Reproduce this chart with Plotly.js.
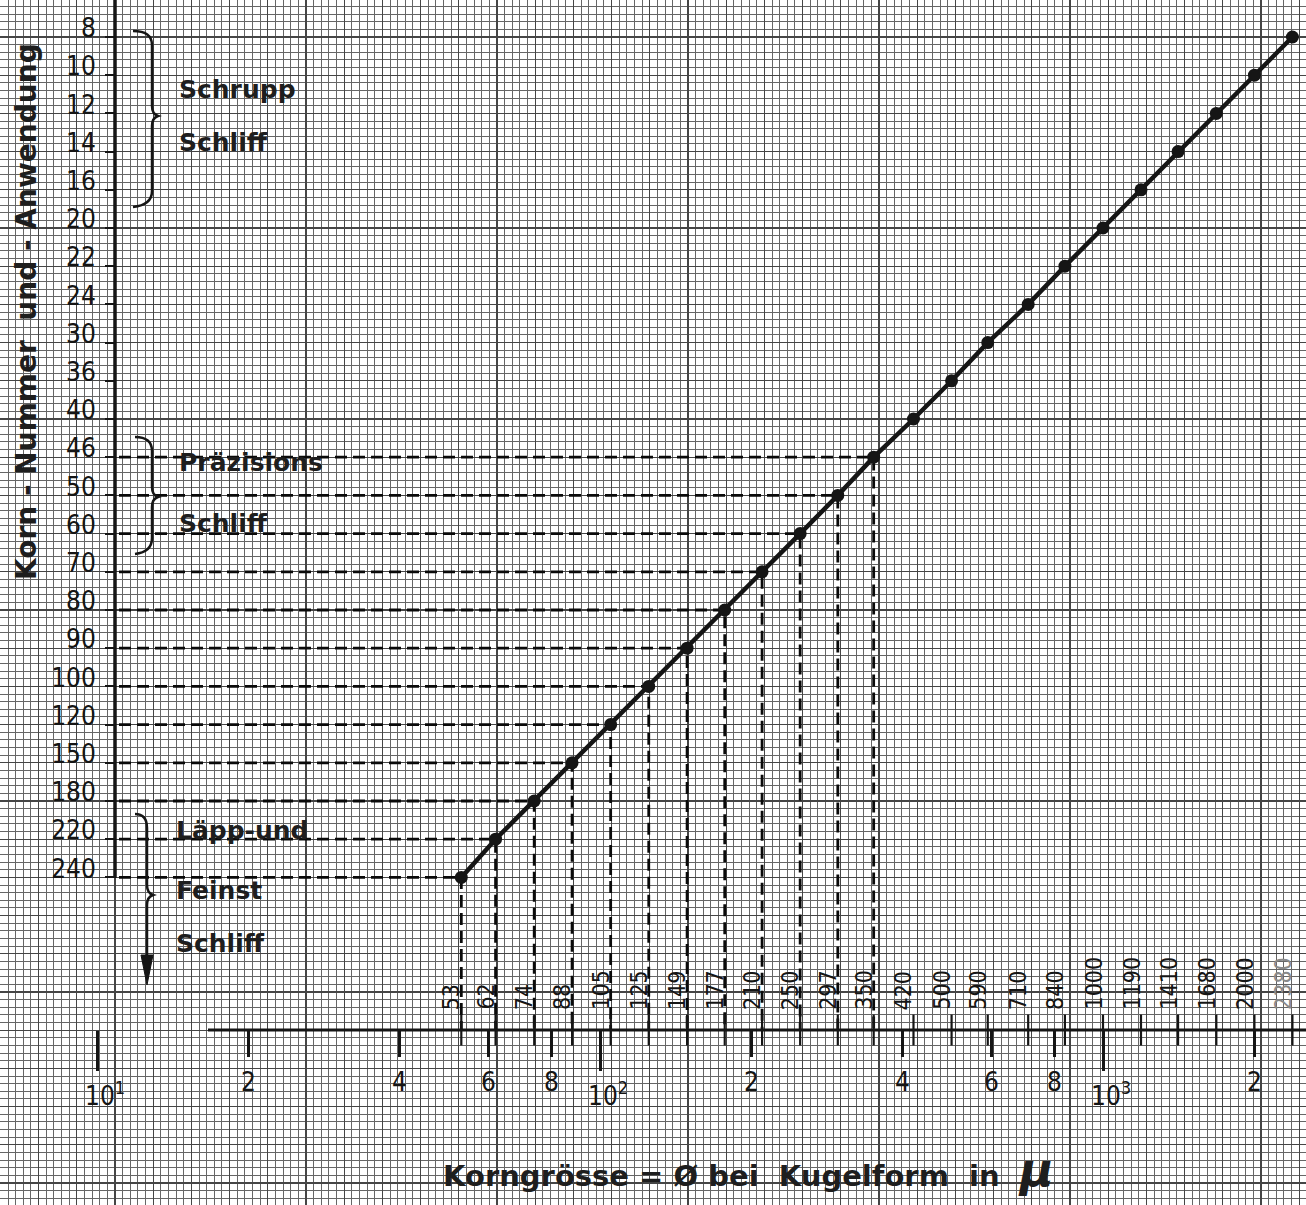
<!DOCTYPE html>
<html>
<head>
<meta charset="utf-8">
<script src="https://cdn.plot.ly/plotly-3.0.1.min.js"></script>
<style>
html,body{margin:0;padding:0;background:#fff;}
#chart{width:1306px;height:1205px;}
</style>
</head>
<body>
<div id="chart"></div>
<script>
// ---- data ----
const grits = [8,10,12,14,16,20,22,24,30,36,40,46,50,60,70,80,90,100,120,150,180,220,240];
const sizes = [2380,2000,1680,1410,1190,1000,840,710,590,500,420,350,297,250,210,177,149,125,105,88,74,62,53];
const guideStart = 11;               // first grit (46) with dashed reference lines
const majorTicks = [20,40,60,80,200,400,600,800,2000];
const majorLabels = ['2','4','6','8','2','4','6','8','2'];
const decadeTicks = [10,100,1000];
const decadeLabels = ['10<sup>1</sup>','10<sup>2</sup>','10<sup>3</sup>'];
const groups = [
  {lines:['Schrupp','Schliff']},
  {lines:['Präzisions','Schliff']},
  {lines:['Läpp-und','Feinst','Schliff']}
];
const xTitle = 'Korngrösse = Ø bei  Kugelform  in  ';
const yTitle = 'Korn - Nummer  und - Anwendung';

// ---- layout geometry (pixels of the 1306x1205 sheet) ----
const W = 1306, H = 1205;
const PX_DEC = 503, PX_100 = 600;          // px per decade, px of 10^2
const ROW = 38.2, ROW0 = 37;               // px per grit row, px of first row
const Y_AXIS_PX = 115, X_AXIS_PX = 1030;
const xr = [2 - PX_100/PX_DEC, 2 + (W-PX_100)/PX_DEC];
const yr = [(H-ROW0)/ROW, -ROW0/ROW];
const px2x = p => Math.pow(10, xr[0] + (xr[1]-xr[0])*p/W);
const py2i = p => (p-ROW0)/ROW;
const pxp = p => p/W, pyp = p => 1 - p/H;

const FONT = 'DejaVu Sans Condensed, DejaVu Sans, sans-serif';
const INK = '#151515';

const idx = grits.map((g,i)=>i);
const axisX = px2x(Y_AXIS_PX + 4), axisI = py2i(X_AXIS_PX);

// dashed guides
const gx = [], gy = [];
for (let i = guideStart; i < sizes.length; i++) {
  gx.push(axisX, sizes[i], sizes[i], null);
  gy.push(i, i, axisI, null);
}

const traces = [
  // anchor trace so the graph-paper subplot is drawn
  {x:[null], y:[null], xaxis:'x', yaxis:'y', mode:'markers', hoverinfo:'skip'},
  {x: gx, y: gy, xaxis:'x2', yaxis:'y2', mode:'lines', hoverinfo:'skip',
   line:{color:'#0a0a0a', width:2.8, dash:'12px,6px'}},
  {x: sizes, y: idx, xaxis:'x2', yaxis:'y2', mode:'lines+markers',
   line:{color:INK, width:4.5}, marker:{color:INK, size:13}},
  {x: sizes, y: sizes.map(()=>axisI), xaxis:'x2', yaxis:'y2', mode:'markers', hoverinfo:'skip',
   marker:{symbol:'line-ns-open', size:22, color:INK, line:{color:INK, width:2.2}}}
];

const ann = [];
sizes.forEach((s,i)=>{
  ann.push({xref:'x2', yref:'paper', x: Math.log10(s), y: pyp(1012), text: String(s),
    textangle:-90, xanchor:'center', yanchor:'bottom', xshift:-10, showarrow:false,
    font:{family:FONT, size:23, color: i===0 ? '#8a8a8a' : INK}});
});
majorTicks.forEach((v,i)=>{
  ann.push({xref:'x2', yref:'paper', x: Math.log10(v), y: pyp(1082), text: majorLabels[i],
    xanchor:'center', yanchor:'middle', showarrow:false, font:{family:FONT, size:26, color:INK}});
});
decadeTicks.forEach((v,i)=>{
  ann.push({xref:'x2', yref:'paper', x: Math.log10(v), y: pyp(1094), text: decadeLabels[i],
    xanchor:'left', yanchor:'middle', xshift:-14, showarrow:false, font:{family:FONT, size:26, color:INK}});
});
const groupY = [[90,142],[463,523],[830,890,943]];
const groupX = [177,177,174];
groups.forEach((g,k)=>{
  g.lines.forEach((t,j)=>{
    ann.push({xref:'paper', yref:'paper', x: pxp(groupX[k]), y: pyp(groupY[k][j]), text:t,
      xanchor:'left', yanchor:'middle', showarrow:false,
      font:{family:'DejaVu Sans, sans-serif', size:25, weight:'bold', color:'#1e1e1e'}});
  });
});
ann.push({xref:'paper', yref:'paper', x: pxp(748), y: pyp(1170),
  text: xTitle + '<span style="font-size:46px;font-style:italic">μ</span>',
  xanchor:'center', yanchor:'middle', showarrow:false,
  font:{family:'DejaVu Sans, sans-serif', size:29, weight:'bold', color:'#1e1e1e'}});
ann.push({xref:'paper', yref:'paper', x: pxp(27), y: pyp(312), text: yTitle, textangle:-90,
  xanchor:'center', yanchor:'middle', showarrow:false,
  font:{family:'DejaVu Sans, sans-serif', size:28, weight:'bold', color:'#1e1e1e'}});

// brace paths in paper coords
function brace(top, mid, bot, x0, xv, xn){
  return 'M ' + pxp(x0).toFixed(5)+','+pyp(top).toFixed(5) +
    ' Q ' + pxp(xv)+','+pyp(top)+' '+pxp(xv)+','+pyp(top+14) +
    ' L ' + pxp(xv)+','+pyp(mid-10) +
    ' Q ' + pxp(xv)+','+pyp(mid-2)+' '+pxp(xn)+','+pyp(mid) +
    ' Q ' + pxp(xv)+','+pyp(mid+2)+' '+pxp(xv)+','+pyp(mid+10) +
    ' L ' + pxp(xv)+','+pyp(bot-14) +
    ' Q ' + pxp(xv)+','+pyp(bot)+' '+pxp(x0)+','+pyp(bot+2);
}
const b3 = 'M ' + pxp(135)+','+pyp(814) +
  ' Q ' + pxp(147)+','+pyp(814)+' '+pxp(147)+','+pyp(828) +
  ' L ' + pxp(147)+','+pyp(885) +
  ' Q ' + pxp(147)+','+pyp(893)+' '+pxp(153)+','+pyp(895) +
  ' Q ' + pxp(147)+','+pyp(897)+' '+pxp(147)+','+pyp(905) +
  ' L ' + pxp(147)+','+pyp(960);
const arrow = 'M ' + pxp(141)+','+pyp(955)+' L '+pxp(153)+','+pyp(955)+' L '+pxp(147)+','+pyp(985)+' Z';

const shapes = [
  {type:'line', xref:'paper', yref:'paper', x0:pxp(Y_AXIS_PX), x1:pxp(Y_AXIS_PX), y0:1, y1:pyp(878), line:{color:INK, width:3.5}},
  {type:'line', xref:'paper', yref:'paper', x0:pxp(208), x1:1, y0:pyp(X_AXIS_PX), y1:pyp(X_AXIS_PX), line:{color:INK, width:3.2}},
  {type:'path', xref:'paper', yref:'paper', path: brace(31,116,205,133,152,158), line:{color:INK, width:2.5}},
  {type:'path', xref:'paper', yref:'paper', path: brace(437,497,552,135,152,158), line:{color:INK, width:2.5}},
  {type:'path', xref:'paper', yref:'paper', path: b3, line:{color:INK, width:2.5}},
  {type:'path', xref:'paper', yref:'paper', path: arrow, fillcolor:INK, line:{color:INK, width:1}}
];

const layout = {
  width: W, height: H, margin:{l:0,r:0,t:0,b:0}, showlegend:false,
  paper_bgcolor:'#ffffff', plot_bgcolor:'#ffffff',
  // graph-paper grid (pixel units)
  xaxis:{range:[0,W], showticklabels:false, ticks:'', zeroline:false, showline:false,
    tick0: Y_AXIS_PX, dtick: ROW, showgrid:true, gridcolor:'#454545', gridwidth:1.3,
    minor:{tick0: Y_AXIS_PX, dtick: ROW/5, showgrid:true, gridcolor:'#666666', gridwidth:1}},
  yaxis:{range:[H,0], showticklabels:false, ticks:'', zeroline:false, showline:false,
    tick0: ROW0, dtick: ROW, showgrid:true, gridcolor:'#454545', gridwidth:1.3,
    minor:{tick0: ROW0, dtick: ROW/5, showgrid:true, gridcolor:'#666666', gridwidth:1}},
  // data axes
  xaxis2:{type:'log', range: xr, overlaying:'x', anchor:'free', position: 1 - X_AXIS_PX/H, side:'bottom',
    showgrid:false, zeroline:false, showline:false, showticklabels:false,
    tickmode:'array', tickvals: decadeTicks,
    ticks:'outside', ticklen:40, tickwidth:3, tickcolor:INK,
    minor:{tickmode:'array', tickvals: majorTicks, ticks:'outside', ticklen:26, tickwidth:3, tickcolor:INK, showgrid:false}},
  yaxis2:{range: yr, overlaying:'y', anchor:'free', position: pxp(Y_AXIS_PX), side:'left',
    showgrid:false, zeroline:false, showline:false,
    tickmode:'array', tickvals: idx, ticktext: grits.map(String),
    ticks:'outside', ticklen:10, tickwidth:2, tickcolor:INK, ticklabelstandoff:4, ticklabelshift:9,
    tickfont:{family:FONT, size:26, color:INK}},
  annotations: ann,
  shapes: shapes
};

Plotly.newPlot('chart', traces, layout, {staticPlot:true});
</script>
</body>
</html>
